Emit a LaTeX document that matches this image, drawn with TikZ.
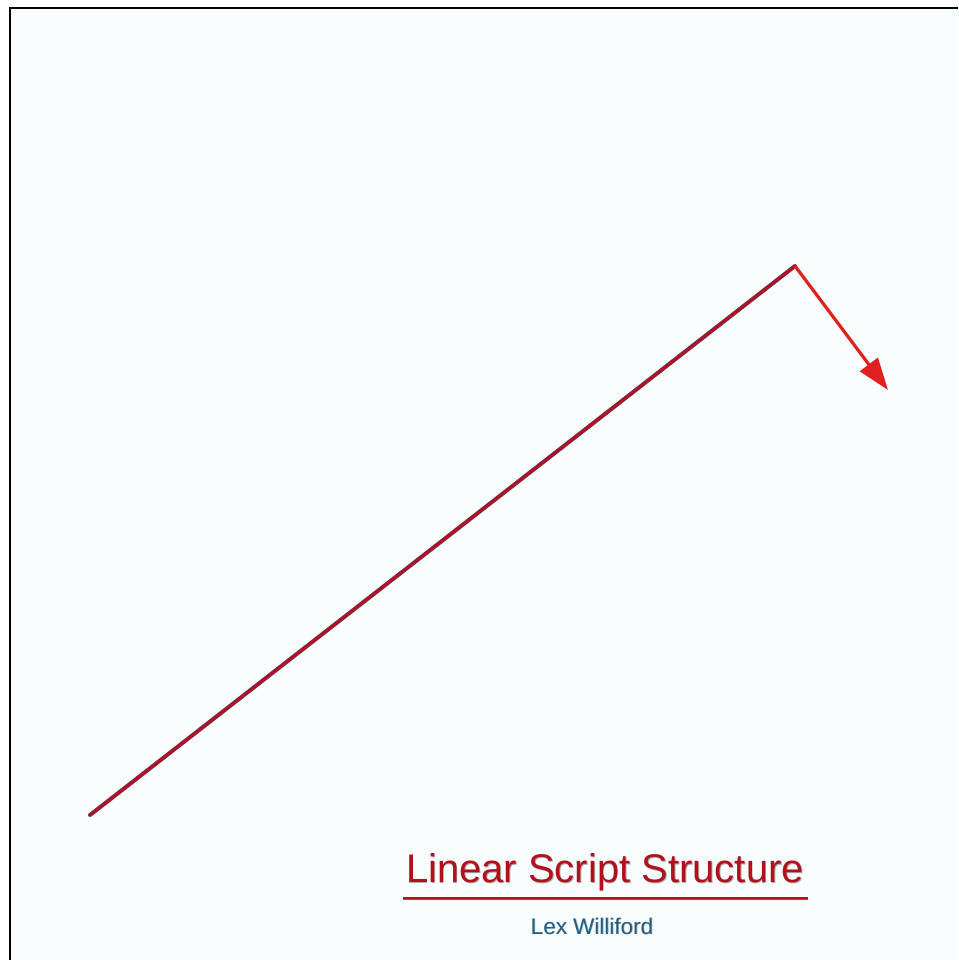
\documentclass[tikz,border=0pt]{standalone}
\usepackage{fontspec}
\setmainfont{Liberation Sans}
\usetikzlibrary{arrows.meta}
\definecolor{bgc}{HTML}{F8FDFD}
\definecolor{linered}{HTML}{B2102A}
\definecolor{arrowred}{HTML}{E01F1F}
\definecolor{titlered}{HTML}{B3101C}
\definecolor{authorblue}{HTML}{1F5F86}
\tikzset{
  frame/.style={line width=2.5pt, black},
  mainline/.style={line width=3pt, linered, line cap=round, line join=round},
  shadowline/.style={line width=4pt, black!70, line cap=round, line join=round},
  titletext/.style={font=\fontsize{40}{40}\selectfont, text=titlered, inner sep=0pt},
  authortext/.style={font=\fontsize{22.5}{22.5}\selectfont, text=authorblue, inner sep=0pt},
  shadowtext/.style={text=black!55, opacity=0.6}
}
\begin{document}
\begin{tikzpicture}[x=1pt,y=-1pt]
\useasboundingbox (0,0) rectangle (958,960);
\fill[white] (0,0) rectangle (958,960);
\fill[bgc] (10,8) rectangle (958,960);
\draw[frame] (10,960) -- (10,8) -- (958,8);
% connector
\coordinate (start) at (90,815);
\coordinate (bend) at (795,266);
\coordinate (tip) at (888,390);
\draw[shadowline] (start) -- (bend);
\draw[mainline] (start) -- (bend);
\draw[line width=3.2pt, arrowred, line join=round,
  -{Triangle[length=32pt,width=22pt]}] (bend) -- (tip);
% title
\node[titletext, shadowtext, anchor=base] at (605.8,883.3) {Linear Script Structure};
\node[titletext, anchor=base] (title) at (605,882) {Linear Script Structure};
\draw[line width=2.4pt, black!60] (403,899) -- (808,899);
\draw[line width=1.4pt, titlered!85!red] (403,898) -- (808,898);
\node[authortext, shadowtext, anchor=base] at (592.7,934.8) {Lex Williford};
\node[authortext, anchor=base] (author) at (592,934) {Lex Williford};
\end{tikzpicture}
\end{document}
